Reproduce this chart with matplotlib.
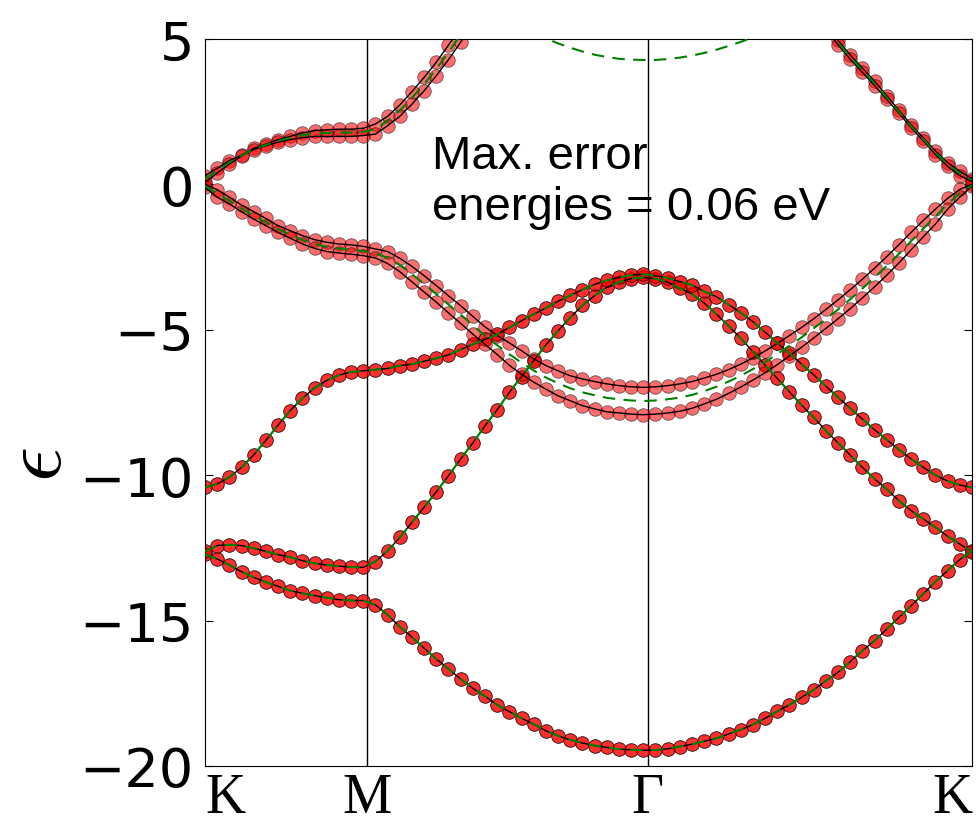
import numpy as np
import matplotlib
matplotlib.use("Agg")
import matplotlib.pyplot as plt

# high-symmetry path K -> M -> Gamma -> K (lengths in 2pi/a units)
K_M = 1.0 / 3.0
K_G = K_M + 1.0 / np.sqrt(3.0)
K_END = K_G + 2.0 / 3.0
sym_pos = [0.0, K_M, K_G, K_END]
sym_labels = ["K", "M", "\u0393", "K"]

nan = np.nan
N_K = 64  # sampled k-points along the path

# sigma bands (same in both spin channels)
s0 = [-12.72, -12.88, -13.09, -13.32, -13.51, -13.68, -13.82, -13.97, -14.06, -14.14,
      -14.21, -14.28, -14.31, -14.31, -14.46, -14.80, -15.21, -15.57, -15.95, -16.32,
      -16.66, -17.01, -17.33, -17.60, -17.90, -18.13, -18.36, -18.56, -18.79, -18.96,
      -19.10, -19.21, -19.30, -19.36, -19.42, -19.44, -19.46, -19.45, -19.41, -19.33,
      -19.25, -19.15, -19.05, -18.90, -18.75, -18.58, -18.36, -18.12, -17.90, -17.64,
      -17.38, -17.07, -16.78, -16.41, -16.03, -15.69, -15.29, -14.89, -14.49, -14.08,
      -13.66, -13.28, -12.90, -12.60]
s1 = [-12.62, -12.42, -12.39, -12.42, -12.51, -12.62, -12.73, -12.82, -12.94, -13.03,
      -13.09, -13.13, -13.16, -13.17, -12.97, -12.60, -12.14, -11.62, -11.10, -10.57,
      -10.02, -9.44, -8.89, -8.30, -7.75, -7.15, -6.61, -6.06, -5.52, -5.04,
      -4.58, -4.16, -3.83, -3.54, -3.36, -3.24, -3.20, -3.24, -3.36, -3.57,
      -3.77, -4.08, -4.46, -4.86, -5.29, -5.75, -6.21, -6.67, -7.13, -7.59,
      -8.01, -8.47, -8.89, -9.31, -9.73, -10.13, -10.48, -10.88, -11.22, -11.51,
      -11.79, -12.10, -12.37, -12.63]
s2 = [-10.42, -10.30, -10.07, -9.73, -9.30, -8.80, -8.28, -7.78, -7.35, -7.00,
      -6.74, -6.56, -6.45, -6.41, -6.37, -6.33, -6.23, -6.18, -6.08, -5.98,
      -5.86, -5.68, -5.50, -5.33, -5.16, -4.92, -4.69, -4.46, -4.25, -4.02,
      -3.82, -3.62, -3.44, -3.30, -3.20, -3.12, -3.09, -3.14, -3.22, -3.34,
      -3.46, -3.68, -3.86, -4.13, -4.41, -4.72, -5.08, -5.45, -5.80, -6.18,
      -6.55, -6.94, -7.32, -7.70, -8.07, -8.44, -8.78, -9.12, -9.44, -9.73,
      -10.00, -10.20, -10.34, -10.42]

# pi bands, split into two channels (a / b)
pv_a = [0.00, -0.18, -0.44, -0.71, -0.94, -1.17, -1.42, -1.59, -1.76, -1.90,
        -1.99, -2.05, -2.08, -2.13, -2.22, -2.31, -2.54, -2.82, -3.14, -3.48,
        -3.83, -4.17, -4.54, -4.90, -5.20, -5.45, -5.72, -6.00, -6.23, -6.41,
        -6.58, -6.69, -6.78, -6.86, -6.92, -6.96, -6.98, -6.96, -6.92, -6.86,
        -6.78, -6.66, -6.53, -6.37, -6.18, -5.97, -5.73, -5.47, -5.20, -4.92,
        -4.62, -4.30, -3.97, -3.62, -3.26, -2.88, -2.48, -2.07, -1.65, -1.24,
        -0.85, -0.48, -0.17, 0.00]
pv_b = [-0.10, -0.44, -0.67, -0.94, -1.19, -1.42, -1.65, -1.85, -2.05, -2.20,
        -2.31, -2.36, -2.40, -2.45, -2.53, -2.72, -3.00, -3.35, -3.70, -4.05,
        -4.42, -4.78, -5.15, -5.50, -5.85, -6.22, -6.53, -6.80, -7.04, -7.27,
        -7.44, -7.61, -7.72, -7.82, -7.86, -7.90, -7.92, -7.90, -7.86, -7.80,
        -7.70, -7.55, -7.39, -7.19, -6.97, -6.73, -6.48, -6.20, -5.90, -5.60,
        -5.28, -4.95, -4.62, -4.27, -3.90, -3.52, -3.12, -2.70, -2.25, -1.80,
        -1.36, -0.85, -0.44, -0.05]
pc_a = [0.30, 0.55, 0.82, 1.01, 1.24, 1.39, 1.54, 1.65, 1.77, 1.85,
        1.88, 1.90, 1.90, 1.93, 2.08, 2.34, 2.73, 3.19, 3.68, 4.20,
        4.79, 5.40, nan, nan, nan, nan, nan, nan, nan, nan,
        nan, nan, nan, nan, nan, nan, nan, nan, nan, nan,
        nan, nan, nan, nan, nan, nan, nan, nan, nan, nan,
        nan, 5.45, 4.95, 4.45, 4.00, 3.55, 3.05, 2.55, 2.05, 1.60,
        1.15, 0.75, 0.45, 0.20]
pc_b = [0.07, 0.39, 0.70, 0.97, 1.20, 1.33, 1.45, 1.54, 1.61, 1.65,
        1.65, 1.65, 1.65, 1.68, 1.73, 2.02, 2.34, 2.76, 3.22, 3.74,
        4.29, 4.89, 5.50, nan, nan, nan, nan, nan, nan, nan,
        nan, nan, nan, nan, nan, nan, nan, nan, nan, nan,
        nan, nan, nan, nan, nan, nan, nan, nan, nan, nan,
        nan, 5.30, 4.80, 4.30, 3.85, 3.40, 2.92, 2.45, 1.95, 1.50,
        1.02, 0.62, 0.30, 0.10]

# model without splitting (green dashed)
g_pv = [-0.05, -0.31, -0.56, -0.83, -1.07, -1.30, -1.54, -1.72, -1.91, -2.05,
        -2.15, -2.21, -2.24, -2.29, -2.38, -2.52, -2.77, -3.09, -3.42, -3.77,
        -4.13, -4.48, -4.85, -5.20, -5.53, -5.84, -6.13, -6.40, -6.64, -6.84,
        -7.01, -7.15, -7.25, -7.34, -7.39, -7.43, -7.45, -7.43, -7.39, -7.33,
        -7.24, -7.11, -6.96, -6.78, -6.58, -6.35, -6.11, -5.84, -5.55, -5.26,
        -4.95, -4.63, -4.30, -3.95, -3.58, -3.20, -2.80, -2.39, -1.95, -1.52,
        -1.10, -0.67, -0.31, -0.03]
g_pc = [0.19, 0.47, 0.76, 0.99, 1.22, 1.36, 1.50, 1.60, 1.69, 1.75,
        1.77, 1.78, 1.78, 1.80, 1.90, 2.18, 2.54, 2.98, 3.45, 3.97,
        4.54, 5.15, 5.70, nan, nan, nan, nan, nan, nan, nan,
        nan, nan, nan, nan, nan, nan, nan, nan, nan, nan,
        nan, nan, nan, nan, nan, nan, nan, nan, nan, nan,
        nan, 5.38, 4.88, 4.38, 3.93, 3.48, 2.99, 2.50, 2.00, 1.55,
        1.09, 0.69, 0.38, 0.15]
g_top = [nan] * 27 + [5.25, 5.02, 4.85, 4.70, 4.57, 4.46, 4.38, 4.32, 4.29,
                      4.28, 4.28, 4.31, 4.36, 4.43, 4.52, 4.63, 4.76, 4.90, 5.05] + [nan] * 18

k = np.linspace(0.0, K_END, N_K)

fig = plt.figure(figsize=(9.76, 8.2), dpi=100)
ax = fig.add_axes([205 / 976, 53 / 820, 767 / 976, 727 / 820])

dot_kw = dict(s=95, c="red", edgecolors="black", linewidths=0.6, alpha=0.57, zorder=2)
for band in (s0, s1, s2, pv_a, pc_a):
    ax.scatter(k, band, **dot_kw)
for band in (s0, s1, s2, pv_b, pc_b):
    ax.scatter(k, band, **dot_kw)

for band in (s0, s1, s2, pv_a, pv_b, pc_a, pc_b):
    ax.plot(k, band, color="black", lw=1.0, zorder=3)
for band in (s0, s1, s2, g_pv, g_pc, g_top):
    ax.plot(k, band, color="green", lw=1.5, ls=(0, (6, 4)), zorder=4)

for x in sym_pos[1:-1]:
    ax.axvline(x, color="black", lw=1.0, zorder=1)

ax.set_xlim(0.0, K_END)
ax.set_ylim(-20, 5)
ax.set_xticks(sym_pos)
ax.set_xticklabels(sym_labels, family="Liberation Serif", fontsize=40)
xlabels = ax.get_xticklabels()
xlabels[0].set_ha("left")
xlabels[-1].set_ha("right")
ax.tick_params(axis="x", length=0, pad=4)
ax.set_yticks([5, 0, -5, -10, -15, -20])
ax.tick_params(axis="y", direction="in", length=6, right=True, labelsize=39, pad=8)

fig.text(37 / 976, 1 - 465 / 820, r"$\epsilon$", fontsize=62, rotation=90,
         ha="center", va="center", math_fontfamily="cm")

ax.text(0.296, 0.752, "Max. error\nenergies = 0.06 eV", transform=ax.transAxes,
        family="Liberation Sans", fontsize=34, ha="left", va="baseline")

fig.savefig("out.png", dpi=100)
